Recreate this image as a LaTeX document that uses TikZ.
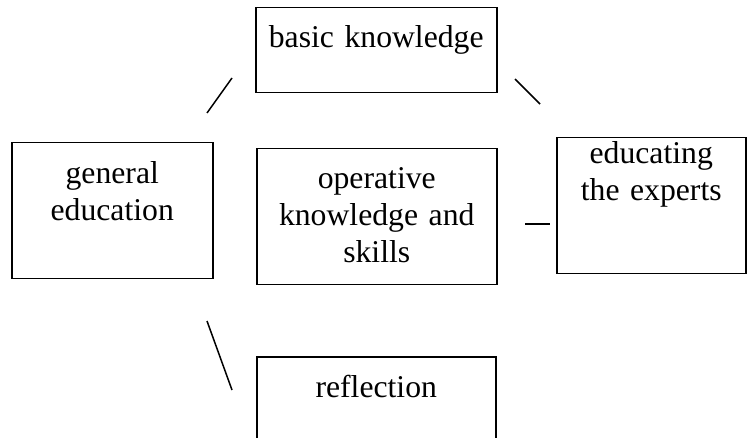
\documentclass[tikz,border=0pt]{standalone}
\usepackage{fontspec}
\setmainfont{Liberation Serif}
\usepackage{tikz}

\begin{document}
\begin{tikzpicture}[x=1pt, y=-1pt,
  main/.style = {draw, rectangle, line width=1.5pt, anchor=north west, inner sep=0pt,
    align=center, font=\fontsize{31.7}{37}\selectfont}]
  \clip (0,0) rectangle (747,438);
  \node[main, text width=241pt, text height=40pt, text depth=45pt] (1) at (255,7) {basic knowledge};
  \node[main, text width=201pt, text height=41pt, text depth=95pt] (2) at (11,142) {general\\education};
  \node[main, text width=240pt, text height=40pt, text depth=96pt] (3) at (256,148) {operative\\knowledge and\\skills};
  \node[main, text width=189pt, text height=26pt, text depth=110pt] (4) at (556,137) {educating\\the experts};
  \node[main, text width=239pt, text height=41pt, text depth=100pt] (5) at (256,356) {reflection};
  \coordinate (a1) at (207,113);
  \coordinate (b1) at (232,78);
  \coordinate (a2) at (515,79);
  \coordinate (b2) at (540,104);
  \coordinate (a3) at (525,224);
  \coordinate (b3) at (550,224);
  \coordinate (a4) at (207,321);
  \coordinate (b4) at (232,390);
  \draw[line width=1.5pt] (a1) -- (b1);
  \draw[line width=1.5pt] (a2) -- (b2);
  \draw[line width=1.5pt] (a3) -- (b3);
  \draw[line width=1.5pt] (a4) -- (b4);
\end{tikzpicture}
\end{document}
